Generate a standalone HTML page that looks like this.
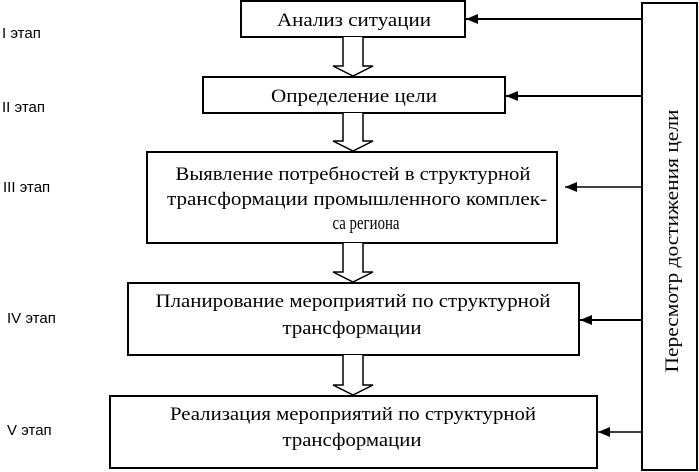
<!DOCTYPE html>
<html><head><meta charset="utf-8"><style>
html,body{margin:0;padding:0;background:#fff;}
svg{display:block}
.b{font-family:"Liberation Serif",serif;font-size:19px;fill:#000}
.l{font-family:"Liberation Sans",sans-serif;font-size:15px;fill:#000}
</style></head><body>
<svg width="699" height="472" viewBox="0 0 699 472" xmlns="http://www.w3.org/2000/svg">
<defs><marker id="a" markerWidth="12" markerHeight="10" refX="12" refY="5" orient="auto" markerUnits="userSpaceOnUse"><path d="M0,0 L12,5 L0,10 Z" fill="#000"/></marker></defs>
<g fill="#fff" stroke="#000" stroke-width="2">
<rect x="241" y="1" width="224" height="36"/>
<rect x="203" y="77" width="302" height="36"/>
<rect x="147" y="152" width="410" height="91"/>
<rect x="128" y="283" width="451" height="72"/>
<rect x="110" y="396" width="487" height="72"/>
<rect x="642" y="3" width="55" height="467"/>
</g>
<g fill="#fff" stroke="#000" stroke-width="1.5">
<path d="M343,37 V66 H333 L353,76 L373,66 H363 V37"/>
<path d="M343,113 V141 H333 L353,151 L373,141 H363 V113"/>
<path d="M343,243 V272 H333 L353,282 L373,272 H363 V243"/>
<path d="M343,355 V385 H333 L353,395 L373,385 H363 V355"/>
</g>
<g stroke="#000" stroke-width="2">
<line x1="642" y1="19" x2="466" y2="19" marker-end="url(#a)"/>
<line x1="642" y1="96" x2="506" y2="96" marker-end="url(#a)"/>
<line x1="642" y1="187" x2="565" y2="187" stroke-width="1.5" marker-end="url(#a)"/>
<line x1="642" y1="320" x2="580" y2="320" marker-end="url(#a)"/>
<line x1="642" y1="432" x2="598" y2="432" stroke-width="1.5" marker-end="url(#a)"/>
</g>
<g class="b" text-anchor="middle" lengthAdjust="spacingAndGlyphs">
<text x="354" y="26" textLength="154" lengthAdjust="spacingAndGlyphs">Анализ ситуации</text>
<text x="354" y="102" textLength="166" lengthAdjust="spacingAndGlyphs">Определение цели</text>
<text x="353" y="180" textLength="355" lengthAdjust="spacingAndGlyphs">Выявление потребностей в структурной</text>
<text x="357" y="205" textLength="380" lengthAdjust="spacingAndGlyphs">трансформации промышленного комплек-</text>
<text x="366" y="229" textLength="67" lengthAdjust="spacingAndGlyphs">са региона</text>
<text x="353" y="307" textLength="395" lengthAdjust="spacingAndGlyphs">Планирование мероприятий по структурной</text>
<text x="352" y="334" textLength="139" lengthAdjust="spacingAndGlyphs">трансформации</text>
<text x="353" y="420" textLength="366" lengthAdjust="spacingAndGlyphs">Реализация мероприятий по структурной</text>
<text x="352" y="446" textLength="139" lengthAdjust="spacingAndGlyphs">трансформации</text>
</g>
<g class="l">
<text x="2" y="38">I этап</text>
<text x="2" y="112">II этап</text>
<text x="3" y="192">III этап</text>
<text x="7" y="323">IV этап</text>
<text x="7" y="435">V этап</text>
</g>
<text class="b" transform="translate(678,241) rotate(-90)" text-anchor="middle" textLength="263" lengthAdjust="spacingAndGlyphs">Пересмотр достижения цели</text>
</svg>
</body></html>
